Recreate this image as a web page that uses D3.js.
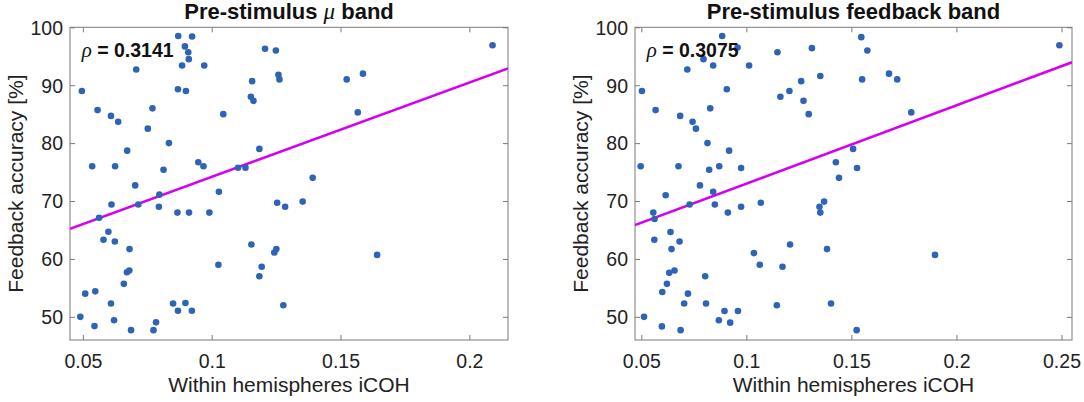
<!DOCTYPE html>
<html>
<head>
<meta charset="utf-8">
<script src="https://cdn.jsdelivr.net/npm/d3@7"></script>
<style>
  html, body { margin: 0; padding: 0; background: #fff; }
  svg { display: block; font-family: "Liberation Sans", Arial, Helvetica, sans-serif; }
</style>
</head>
<body>
<svg id="chart" width="1084" height="402"></svg>
<script>
// ---------- DATA ----------
const muX = [0.0870,0.0924,0.0896,0.0909,0.0911,0.0885,0.0971,0.0707,0.1207,0.1249,
  0.1259,0.1263,0.0496,0.0869,0.0900,0.1157,0.1152,0.1162,0.0557,0.0609,
  0.0637,0.0770,0.1045,0.0752,0.0834,0.0672,0.1185,0.0536,0.0625,0.0813,
  0.0948,0.0968,0.1102,0.1131,0.0703,0.1028,0.0797,0.0611,0.0715,0.0795,
  0.0563,0.0867,0.0912,0.0991,0.1254,0.1285,0.1353,0.1392,0.0599,0.0580,
  0.0624,0.0681,0.1154,0.1251,0.1243,0.1026,0.1194,0.1185,0.0680,0.0671,
  0.0659,0.0509,0.0548,0.0609,0.0850,0.0898,0.0869,0.0923,0.0490,0.0621,
  0.0545,0.0784,0.0687,0.0774,0.1524,0.1587,0.2090,0.1567,0.1642,0.1278];
const muY = [98.5,98.4,96.7,95.7,94.5,93.4,93.4,92.7,96.3,96.0,
  91.8,91.0,89.0,89.3,89.0,90.7,88.0,87.3,85.7,84.7,
  83.7,86.0,85.0,82.5,80.0,78.7,79.0,76.0,76.0,75.4,
  76.7,76.0,75.75,75.75,72.7,71.6,71.1,69.4,69.4,69.0,
  67.1,68.0,68.0,68.0,69.7,69.0,69.9,74.0,64.7,63.3,
  63.0,61.7,62.5,61.7,61.1,59.0,58.65,57.0,58.0,57.7,
  55.7,54.0,54.4,52.3,52.3,52.4,51.05,51.05,50.0,49.4,
  48.4,49.05,47.7,47.7,91.0,92.0,96.9,85.3,60.7,52.0];

const fbX = [0.0503,0.0885,0.0958,0.0796,0.0842,0.1013,0.0719,0.1148,0.0907,0.1162,
  0.1205,0.0568,0.0685,0.0744,0.0760,0.0828,0.0815,0.0918,0.0497,0.0677,
  0.0823,0.0871,0.0975,0.0779,0.0842,0.0616,0.1312,0.1261,0.1352,0.1272,
  0.1297,0.1547,0.1576,0.1551,0.1679,0.1718,0.2490,0.1785,0.1508,0.1426,
  0.1527,0.1441,0.1370,0.1348,0.1352,0.1208,0.1172,0.1384,0.1898,0.1403,
  0.1525,0.0557,0.0563,0.0730,0.0850,0.0975,0.0912,0.1069,0.0639,0.0562,
  0.0682,0.0644,0.1036,0.1064,0.0658,0.0633,0.0804,0.0622,0.0600,0.0722,
  0.0704,0.0808,0.1145,0.0896,0.0960,0.0513,0.0869,0.0923,0.0598,0.0687];
const fbY = [89.0,98.5,96.5,94.5,93.4,93.4,92.7,95.7,89.3,88.0,
  89.0,85.7,84.7,83.7,82.5,86.0,80.0,78.7,76.0,76.0,
  75.4,76.0,75.7,72.7,71.6,71.0,96.4,90.7,91.6,87.3,
  85.0,98.3,96.0,91.0,92.0,91.0,96.9,85.3,79.0,76.7,
  75.7,74.0,69.9,69.0,68.0,62.5,58.65,61.7,60.7,52.3,
  47.7,68.0,66.9,69.4,69.4,69.0,68.0,69.7,64.65,63.3,
  63.0,61.7,61.0,59.0,58.0,57.6,57.0,55.7,54.3,54.0,
  52.3,52.3,52.0,51.0,51.0,50.0,49.4,49.0,48.35,47.7];

// regression line end points [x, y]
const muFit = [[0.045, 65.2], [0.215, 92.9]];
const fbFit = [[0.047, 65.85], [0.255, 93.95]];

const muXTicks = [0.05, 0.1, 0.15, 0.2];
const fbXTicks = [0.05, 0.1, 0.15, 0.2, 0.25];
const yTicks = [50, 60, 70, 80, 90, 100];

const muTitle = ["Pre-stimulus ", "\u03bc", " band"];
const fbTitle = ["Pre-stimulus feedback band"];
const muRho = "0.3141";
const fbRho = "0.3075";
const xLabel = "Within hemispheres iCOH";
const yLabel = "Feedback accuracy [%]";

// ---------- DRAW ----------
const svg = d3.select("#chart");
const plotTop = 27.3, plotBottom = 340;
const axisColor = "#7a7a7a";
const textColor = "#222";
const dotColor = "#2e63b6";
const lineColor = "#d600f0";
const mathFont = "'Liberation Serif', 'DejaVu Serif', serif";

function panel(opts) {
  const { x0, x1, xDomain, xs, ys, fit, xTicks, title, rho, id } = opts;
  const x = d3.scaleLinear().domain(xDomain).range([x0, x1]);
  const y = d3.scaleLinear().domain([46, 100]).range([plotBottom, plotTop]);
  const g = svg.append("g");

  g.append("clipPath").attr("id", id).append("rect")
    .attr("x", x0).attr("y", plotTop).attr("width", x1 - x0).attr("height", plotBottom - plotTop);

  // axes (inward ticks) on all four sides
  const tl = 5;
  const axB = g.append("g").attr("transform", `translate(0,${plotBottom})`)
    .call(d3.axisBottom(x).tickValues(xTicks).tickSize(-tl).tickPadding(10)
      .tickFormat(d => d3.format("~g")(d)));
  const axT = g.append("g").attr("transform", `translate(0,${plotTop})`)
    .call(d3.axisTop(x).tickValues(xTicks).tickSize(-tl).tickFormat(""));
  const axL = g.append("g").attr("transform", `translate(${x0},0)`)
    .call(d3.axisLeft(y).tickValues(yTicks).tickSize(-tl).tickPadding(7));
  const axR = g.append("g").attr("transform", `translate(${x1},0)`)
    .call(d3.axisRight(y).tickValues(yTicks).tickSize(-tl).tickFormat(""));
  [axB, axT, axL, axR].forEach(a => {
    a.select(".domain").remove();
    a.selectAll(".tick line").attr("stroke", axisColor);
    a.selectAll(".tick text").attr("fill", textColor)
      .style("font-size", "19.5px").style("font-family", "'Liberation Sans', Arial, sans-serif");
  });
  axB.selectAll(".tick text").attr("dy", null).attr("y", 27.7);
  axL.selectAll(".tick text").attr("dy", "0.35em");

  g.append("rect").attr("x", x0).attr("y", plotTop).attr("width", x1 - x0).attr("height", plotBottom - plotTop)
    .attr("fill", "none").attr("stroke", axisColor).attr("stroke-width", 1);

  // fit line
  g.append("path")
    .datum(fit)
    .attr("clip-path", `url(#${id})`)
    .attr("d", d3.line().x(d => x(d[0])).y(d => y(d[1])))
    .attr("stroke", lineColor).attr("stroke-width", 2.6).attr("fill", "none");

  // points
  g.append("g").selectAll("circle")
    .data(xs.map((v, i) => [v, ys[i]]))
    .join("circle")
    .attr("cx", d => x(d[0])).attr("cy", d => y(d[1]))
    .attr("r", 3.3).attr("fill", dotColor);

  // rho annotation
  const rt = g.append("text").attr("x", x0 + 11.7).attr("y", 56.5)
    .attr("fill", "#111").style("font-size", "19.5px").style("font-weight", "bold");
  rt.append("tspan").text("\u03c1").style("font-style", "italic").style("font-weight", "normal")
    .style("font-family", mathFont).style("font-size", "21px");
  rt.append("tspan").text(" = " + rho);

  // title
  const tt = g.append("text").attr("x", (x0 + x1) / 2).attr("y", 18.5)
    .attr("text-anchor", "middle").attr("fill", "#111")
    .style("font-size", "22px").style("font-weight", "bold");
  title.forEach((s) => {
    const ts = tt.append("tspan").text(s);
    if (s === "\u03bc") ts.style("font-style", "italic").style("font-weight", "normal")
      .style("font-family", mathFont).style("font-size", "23px");
  });

  // x label
  g.append("text").attr("x", (x0 + x1) / 2).attr("y", 392.3)
    .attr("text-anchor", "middle").attr("fill", textColor)
    .style("font-size", "21px").text(xLabel);

  // y label
  g.append("text")
    .attr("transform", `translate(${x0 - 47},${(plotTop + plotBottom) / 2}) rotate(-90)`)
    .attr("text-anchor", "middle").attr("fill", textColor)
    .style("font-size", "21px").text(yLabel);
}

panel({ id: "clipMu", x0: 70, x1: 508, xDomain: [0.045, 0.215], xs: muX, ys: muY,
  fit: muFit, xTicks: muXTicks, title: muTitle, rho: muRho });
panel({ id: "clipFb", x0: 635, x1: 1072, xDomain: [0.047, 0.255], xs: fbX, ys: fbY,
  fit: fbFit, xTicks: fbXTicks, title: fbTitle, rho: fbRho });
</script>
</body>
</html>
